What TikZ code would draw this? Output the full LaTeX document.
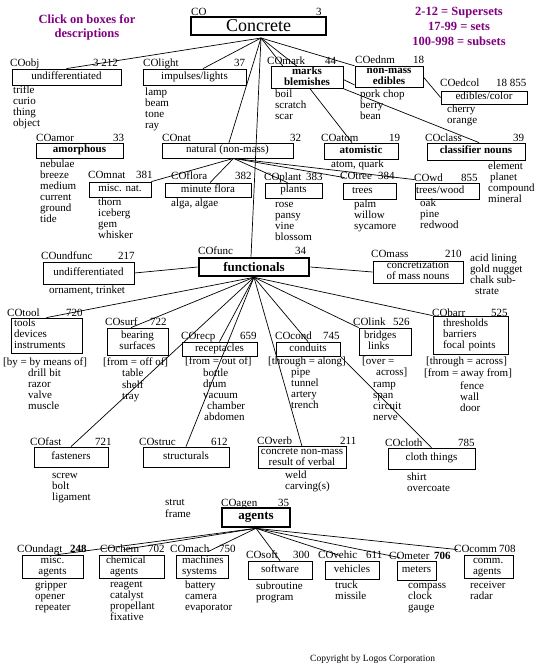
\documentclass[tikz,border=0pt]{standalone}
\usepackage{fontspec}
\setmainfont{Liberation Serif}
\definecolor{ttl}{RGB}{128,0,128}
\newcommand\fsz{\fontsize{11}{11}\selectfont}
\newcommand\bstr{\rule{0pt}{7.5pt}}
\newcommand\estr{\rule[-3pt]{0pt}{3pt}}
\newcommand\bxn[7]{\node[bx,minimum width={#4-#2},minimum height={#5-#3},#6] (#1) at ({(#2+#4)/2},{(#3+#5)/2}) {\bstr #7\estr};}
\newcommand\bxt[7]{\node[bx,minimum width={#4-#2},minimum height={#5-#3},#6] (#1) at ({(#2+#4)/2},{(#3+#5)/2}) {#7};}
\newcommand\lbn[4]{\node[lb] (#1) at (#2,#3) {#4};}
\newcommand\itn[4]{\node[itm] (#1) at (#2,#3) {\strut #4};}
\begin{document}
\begin{tikzpicture}[x=1pt,y=-1pt,
  bx/.style={draw,line width=0.8pt,inner sep=0pt,align=center,font=\fsz},
  bl/.style={align=left},
  thk/.style={line width=2.6pt},
  lb/.style={anchor=base west,inner sep=0pt,font=\fsz},
  itm/.style={anchor=north west,inner sep=0pt,align=left,font=\fsz},
  cn/.style={line width=0.7pt},
  ttlst/.style={text=ttl,align=center,inner sep=0pt}]
\useasboundingbox (0,0) rectangle (536,671);
% titles
\node[ttlst,font=\fontsize{12.5}{14}\selectfont\bfseries] (tClick) at (87,27.7) {\strut Click on boxes for\\descriptions\strut};
\node[ttlst,font=\fontsize{12.5}{15}\selectfont\bfseries] (tSets) at (459,27.2) {\strut 2-12 = Supersets\\17-99 = sets\\100-998 = subsets\strut};
% boxes
\bxt{Concrete}{191}{17}{326}{35}{thk,font=\fontsize{18}{18}\selectfont}{Concrete}
\bxn{COobj}{12}{69}{121}{85}{}{undifferentiated}
\bxn{COlight}{143}{69}{246}{85}{}{impulses/lights}
\bxn{COmark}{271}{67}{343}{88}{font=\fsz\bfseries}{marks\\blemishes}
\bxn{COednm}{355}{67}{423}{87}{font=\fsz\bfseries}{non-mass\\edibles}
\bxn{COedcol}{441}{91}{527}{104}{}{edibles/color}
\bxn{COamor}{36}{143}{123}{158}{font=\fsz\bfseries}{amorphous}
\bxn{COnat}{162}{143}{293}{158}{}{natural (non-mass)}
\bxn{COatom}{324}{143}{398}{159}{font=\fsz\bfseries}{atomistic}
\bxn{COclass}{427}{143}{525}{160}{font=\fsz\bfseries}{classifier nouns}
\bxn{COmnat}{89}{182}{151}{197}{}{misc. nat.}
\bxn{COflora}{165}{183}{251}{197}{}{minute flora}
\bxn{COplant}{265}{183}{322}{198}{}{plants}
\bxn{COtree}{343}{183}{396}{199}{bl,inner xsep=9pt,text width=35pt}{trees}
\bxn{COwd}{415}{183}{479}{199}{bl,inner xsep=1pt,text width=62pt}{trees/wood}
\bxt{COfunc}{199}{258}{309}{276}{thk,font=\fontsize{13}{13}\selectfont\bfseries}{functionals}
\bxn{COundfunc}{43}{262}{134}{284}{}{undifferentiated}
\bxn{COmass}{373}{261}{463}{283}{}{concretization\\of mass nouns}
\bxn{COtool}{11}{318}{82}{353}{bl,inner xsep=3pt,text width=65pt}{tools\\devices\\instruments}
\bxn{COsurf}{107}{328}{168}{355}{}{bearing\\surfaces}
\bxn{COrecp}{182}{342}{257}{356}{}{receptacles}
\bxn{COcond}{276}{342}{340}{356}{}{conduits}
\bxn{COlink}{359}{328}{411}{355}{bl,inner xsep=5pt,text width=42pt}{bridges\\\hspace*{4pt}links}
\bxn{CObarr}{433}{316}{508}{354}{bl,inner xsep=10pt,text width=55pt}{thresholds\\barriers\\focal points}
\bxn{COfast}{34}{447}{108}{467}{}{fasteners}
\bxn{COstruc}{143}{447}{229}{467}{}{structurals}
\bxn{COverb}{258}{447}{346}{468}{}{concrete non-mass\\result of verbal}
\bxn{COcloth}{388}{448}{475}{469}{}{cloth things}
\bxt{COagen}{222}{508}{290}{527}{thk,font=\fontsize{13}{13}\selectfont\bfseries}{agents}
\bxn{COundagt}{22}{555}{83}{578}{}{misc.\\agents}
\bxn{COchem}{99}{555}{164}{578}{bl,inner xsep=7pt,text width=51pt}{chemical\\\hspace*{4pt}agents}
\bxn{COmach}{176}{555}{228}{578}{bl,inner xsep=6pt,text width=40pt}{machines\\systems}
\bxn{COsoft}{248}{561}{312}{579}{}{software}
\bxn{COvehic}{325}{561}{379}{579}{}{vehicles}
\bxn{COmeter}{397}{561}{436}{580}{}{meters}
\bxn{COcomm}{464}{555}{513}{578}{bl,inner xsep=9pt,text width=31pt}{comm.\\agents}
% labels
\lbn{lCO}{191}{15.5}{CO}\lbn{nCO}{316}{15.5}{3}
\lbn{lCOobj}{10}{66.5}{COobj}\lbn{nCOobj}{93}{66.5}{3 212}
\lbn{lCOlight}{143}{66.5}{COlight}\lbn{nCOlight}{234}{66.5}{37}
\lbn{lCOmark}{267}{65}{COmark}\lbn{nCOmark}{325}{65}{44}
\lbn{lCOednm}{355}{64}{COednm}\lbn{nCOednm}{413}{64}{18}
\lbn{lCOedcol}{440}{86.5}{COedcol}\lbn{nCOedcol}{496}{86.5}{18 855}
\lbn{lCOamor}{36}{141.5}{COamor}\lbn{nCOamor}{113}{141.5}{33}
\lbn{lCOnat}{162}{141.5}{COnat}\lbn{nCOnat}{290}{141.5}{32}
\lbn{lCOatom}{321}{141.5}{COatom}\lbn{nCOatom}{389}{141.5}{19}
\lbn{lCOclass}{425}{141.5}{COclass}\lbn{nCOclass}{513}{141.5}{39}
\lbn{lCOmnat}{88}{178.5}{COmnat}\lbn{nCOmnat}{136}{178.5}{381}
\lbn{lCOflora}{171}{179.5}{COflora}\lbn{nCOflora}{235}{179.5}{382}
\lbn{lCOplant}{264}{180}{COplant}\lbn{nCOplant}{306}{180}{383}
\lbn{lCOtree}{340}{179.5}{COtree}\lbn{nCOtree}{378}{179.5}{384}
\lbn{lCOwd}{414}{181}{COwd}\lbn{nCOwd}{461}{181}{855}
\lbn{lCOfunc}{198}{254.5}{COfunc}\lbn{nCOfunc}{295}{254.5}{34}
\lbn{lCOundfunc}{41}{259.5}{COundfunc}\lbn{nCOundfunc}{118}{259.5}{217}
\lbn{lCOmass}{371}{257.5}{COmass}\lbn{nCOmass}{445}{257.5}{210}
\lbn{lCOtool}{7}{316.5}{COtool}\lbn{nCOtool}{66}{316.5}{720}
\lbn{lCOsurf}{105}{325.5}{COsurf}\lbn{nCOsurf}{150}{325.5}{722}
\lbn{lCOrecp}{181}{339.5}{COrecp}\lbn{nCOrecp}{240}{339.5}{659}
\lbn{lCOcond}{275}{339.5}{COcond}\lbn{nCOcond}{323}{339.5}{745}
\lbn{lCOlink}{353}{325.5}{COlink}\lbn{nCOlink}{393}{325.5}{526}
\lbn{lCObarr}{432}{316.5}{CObarr}\lbn{nCObarr}{491}{316.5}{525}
\lbn{lCOfast}{30}{445.5}{COfast}\lbn{nCOfast}{95}{445.5}{721}
\lbn{lCOstruc}{139}{445.5}{COstruc}\lbn{nCOstruc}{211}{445.5}{612}
\lbn{lCOverb}{257}{444}{COverb}\lbn{nCOverb}{340}{444}{211}
\lbn{lCOcloth}{385}{446.5}{COcloth}\lbn{nCOcloth}{458}{446.5}{785}
\lbn{lCOagen}{221}{506.5}{COagen}\lbn{nCOagen}{278}{506.5}{35}
\lbn{lCOundagt}{17}{552.5}{COundagt}\lbn{nCOundagt}{70}{552.5}{\bfseries 248}
\lbn{lCOchem}{100}{552.5}{COchem}\lbn{nCOchem}{148}{552.5}{702}
\lbn{lCOmach}{170}{552.5}{COmach}\lbn{nCOmach}{219}{552.5}{750}
\lbn{lCOsoft}{246}{558.5}{COsoft}\lbn{nCOsoft}{293}{558.5}{300}
\lbn{lCOvehic}{318}{558.5}{COvehic}\lbn{nCOvehic}{366}{558.5}{611}
\lbn{lCOmeter}{389}{559.5}{COmeter}\lbn{nCOmeter}{434}{559.5}{\bfseries 706}
\lbn{lCOcomm}{454}{552.5}{COcomm}\lbn{nCOcomm}{499}{552.5}{708}
% item lists
\itn{iCOobj}{13}{85.8}{trifle\\curio\\thing\\object}
\itn{iCOlight}{145}{87.8}{lamp\\beam\\tone\\ray}
\itn{iCOmark}{275}{89.8}{boil\\scratch\\scar}
\itn{iCOednm}{360}{89.8}{pork chop\\berry\\bean}
\itn{iCOedcol}{447}{104.8}{cherry\\orange}
\itn{iCOamor}{40}{159.8}{nebulae\\breeze\\medium\\current\\ground\\tide}
\itn{iCOatom}{331}{159.8}{atom, quark}
\itn{iCOclass}{488}{161.8}{element\\\hspace*{2pt}planet\\compound\\mineral}
\itn{iCOmnat}{98}{197.8}{thorn\\iceberg\\gem\\whisker}
\itn{iCOflora}{171}{198.8}{alga, algae}
\itn{iCOplant}{275}{199.8}{rose\\pansy\\vine\\blossom}
\itn{iCOtree}{354}{199.8}{palm\\willow\\sycamore}
\itn{iCOwd}{420}{198.8}{oak\\pine\\redwood}
\itn{iCOundfunc}{49}{285.8}{ornament, trinket}
\itn{iCOmass}{470}{253.8}{acid lining\\gold nugget\\chalk sub-\\\hspace*{5pt}strate}
\itn{bCOtool}{3}{357.8}{[by = by means of]}
\itn{iCOtool}{28}{368.8}{drill bit\\razor\\valve\\muscle}
\itn{bCOsurf}{103}{357.8}{[from = off of]}
\itn{iCOsurf}{122}{368.8}{table\\shelf\\tray}
\itn{bCOrecp}{185}{356.8}{[from = out of]}
\itn{iCOrecp}{203}{368.8}{bottle\\drum\\vacuum\\\hspace*{4pt}chamber\\\hspace*{1pt}abdomen}
\itn{bCOcond}{268}{356.8}{[through = along]}
\itn{iCOcond}{291}{367.8}{pipe\\tunnel\\artery\\trench}
\itn{bCOlink}{362}{356.8}{[over =\\\hspace*{14pt}across]}
\itn{iCOlink}{373}{379.8}{ramp\\span\\circuit\\nerve}
\itn{bCObarr}{424}{356.8}{\hspace*{2pt}[through = across]\\{}[from = away from]}
\itn{iCObarr}{460}{381.8}{fence\\wall\\door}
\itn{iCOfast}{52}{470.8}{screw\\bolt\\ligament}
\itn{iCOstruc}{165}{497.8}{strut\\frame}
\itn{iCOverb}{285}{470.8}{weld\\carving(s)}
\itn{iCOcloth}{407}{472.8}{shirt\\overcoate}
\itn{iCOundagt}{35}{580.8}{gripper\\opener\\repeater}
\itn{iCOchem}{110}{579.8}{reagent\\catalyst\\propellant\\fixative}
\itn{iCOmach}{185}{580.8}{battery\\camera\\evaporator}
\itn{iCOsoft}{256}{581.8}{subroutine\\program}
\itn{iCOvehic}{335}{580.8}{truck\\missile}
\itn{iCOmeter}{408}{580.8}{compass\\clock\\gauge}
\itn{iCOcomm}{470}{580.8}{receiver\\radar}
\node[lb,font=\fontsize{9.5}{9.5}\selectfont] (copy) at (310,661) {Copyright by Logos Corporation};
% connectors from Concrete
\coordinate (hC) at (261,38);
\draw[cn] (hC) -- (COobj.north);
\draw[cn] (hC) -- ([xshift=8.5pt]COlight.north);
\draw[cn] (hC) -- ([xshift=1.5pt]COnat.north);
\draw[cn] (hC) -- ([xshift=-3pt]COfunc.north);
\draw[cn] (hC) -- ([xshift=-24pt]COmark.north);
\draw[cn] (hC) -- ([xshift=-10pt]COmark.north);
\draw[cn] (hC) -- (COednm.north west);
\draw[cn] ([yshift=-2pt]COmark.east) -- ([yshift=-8pt]COednm.west);
\draw[cn] ([xshift=3pt]COmark.south) -- ([xshift=-9pt]COatom.north);
\draw[cn] (COmark.south east) -- ([xshift=3pt]COclass.north);
\draw[cn] (COednm.east) -- (COedcol.west);
% from natural
\coordinate (hN) at ([xshift=6pt]COnat.south);
\draw[cn] (hN) -- (COmnat.north east);
\draw[cn] (hN) -- ([xshift=2pt]COflora.north);
\draw[cn] (hN) -- ([xshift=-6pt]COplant.north);
\draw[cn] (hN) -- ([xshift=2pt,yshift=5pt]COtree.north west);
\draw[cn] (hN) -- ([yshift=3pt]COwd.north west);
% functionals
\coordinate (hF) at (COfunc.south);
\draw[cn] (COundfunc.east) -- (COfunc.west);
\draw[cn] (COfunc.east) -- (COmass.west);
\draw[cn] (hF) -- (COtool.north);
\draw[cn] (hF) -- ([xshift=-6.5pt]COsurf.north);
\draw[cn] (hF) -- (COfast.north);
\draw[cn] (hF) -- (COrecp.north);
\draw[cn] (hF) -- (COstruc.north);
\draw[cn] (hF) -- (COcond.north);
\draw[cn] (hF) -- (COverb.north);
\draw[cn] (hF) -- (COlink.north west);
\draw[cn] (hF) -- (CObarr.north west);
\draw[cn] (COcond.south east) -- (COcloth.north);
% agents
\coordinate (hA) at (COagen.south);
\draw[cn] (hA) -- ([xshift=5pt]COundagt.north);
\draw[cn] (hA) -- ([xshift=-8pt,yshift=5pt]COchem.north);
\draw[cn] (hA) -- ([xshift=6pt,yshift=3pt]COmach.north);
\draw[cn] (hA) -- (COsoft.north);
\draw[cn] (hA) -- ([xshift=-12pt,yshift=5pt]COvehic.north);
\draw[cn] (hA) -- ([xshift=3pt,yshift=3pt]COmeter.north west);
\draw[cn] (hA) -- ([xshift=-6pt,yshift=5pt]COcomm.north west);
\end{tikzpicture}
\end{document}
